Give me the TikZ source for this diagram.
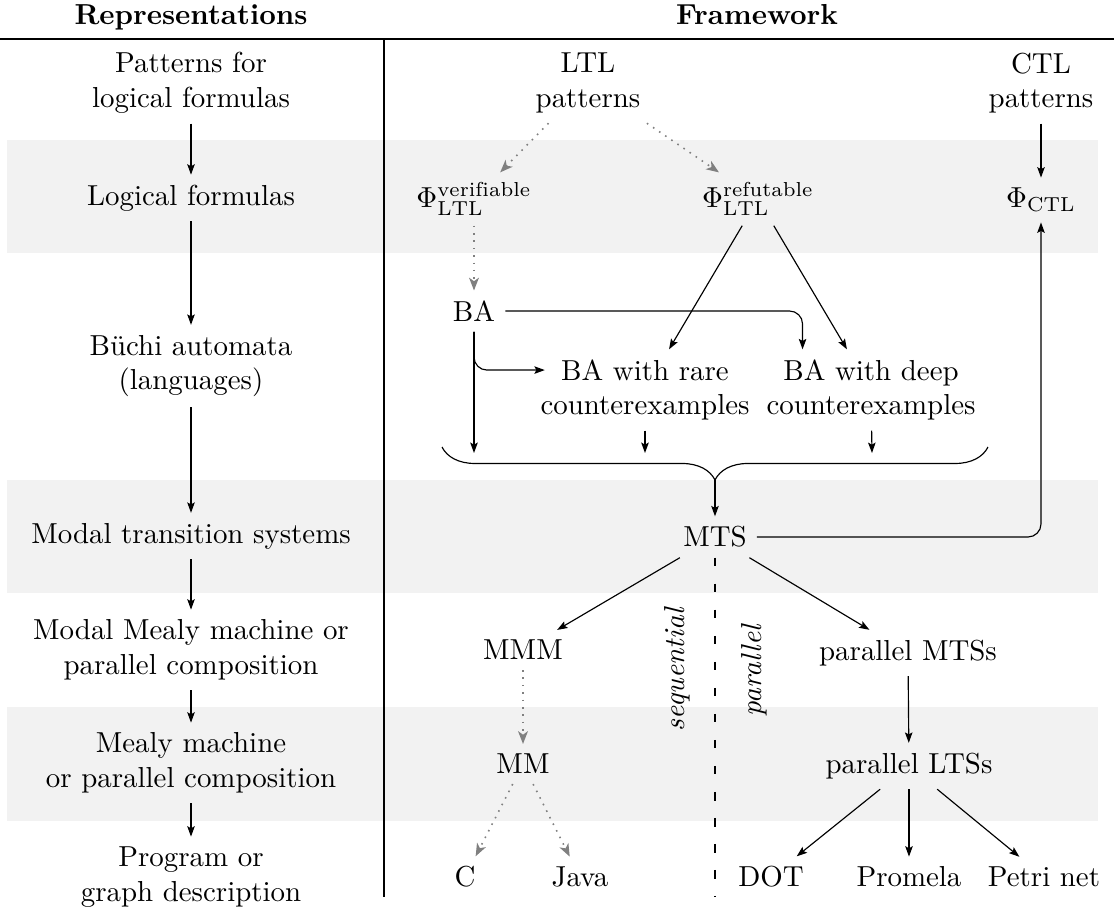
\documentclass[tikz,border=0pt]{standalone}
\usepackage{fontspec}
\usetikzlibrary{arrows.meta,decorations.pathreplacing,calc}
\begin{document}
\begin{tikzpicture}[x=0.346pt,y=-0.346pt,
  lbl/.style={inner sep=3.33pt, align=center},
  arr/.style={draw=black, line width=0.4pt, -{Stealth[length=3.6pt,width=2.6pt,inset=0.7pt]}},
  darr/.style={draw=black!50, dotted, line width=0.55pt, -{Stealth[length=4.4pt,width=3.4pt,inset=1.2pt]}},
  band/.style={fill=black!5, draw=none},
  rule/.style={draw=black, line width=0.45pt},
  seam/.style={draw=black, line width=0.4pt, loosely dashed}]
\useasboundingbox (0,0) rectangle (1114,914);
% shaded bands
\fill[band] (7,140) rectangle (1098,253);
\fill[band] (7,480) rectangle (1098,593);
\fill[band] (7,707) rectangle (1098,821);
% header
\node[anchor=base] (hrep) at (191,24) {\textbf{Representations}};
\node[anchor=base] (hfw) at (757,24) {\textbf{Framework}};
\draw[rule] (0,39) -- (1114,39);
\draw[rule] (384,39) -- (384,897);
% left column
\node[lbl] (l1) at (191,83) {Patterns for\\logical formulas};
\node[lbl] (l2) at (191,198) {Logical formulas};
\node[lbl] (l3) at (191,366) {B\"uchi automata\\(languages)};
\node[lbl] (l4) at (191,536) {Modal transition systems};
\node[lbl] (l5) at (191,650) {Modal Mealy machine or\\parallel composition};
\node[lbl] (l6) at (191,763) {Mealy machine\\or parallel composition};
\node[lbl] (l7) at (191,877) {Program or\\graph description};
\draw[arr] (l1) -- (l2);
\draw[arr] (l2) -- (l3);
\draw[arr] (l3) -- (l4);
\draw[arr] (l4) -- (l5);
\draw[arr] (l5) -- (l6);
\draw[arr] (l6) -- (l7);
% framework
\node[lbl] (ltlp) at (588,83) {LTL\\patterns};
\node[lbl] (ctlp) at (1041,83) {CTL\\patterns};
\node[lbl] (ver) at (474,199) {$\Phi^{\mathrm{verifiable}}_{\mathrm{LTL}}$};
\node[lbl] (ref) at (758,199) {$\Phi^{\mathrm{refutable}}_{\mathrm{LTL}}$};
\node[lbl] (ctl) at (1041,200) {$\Phi_{\mathrm{CTL}}$};
\node[lbl] (ba) at (474,311) {BA};
\node[lbl] (rare) at (645,390) {BA with rare\\counterexamples};
\node[lbl] (deep) at (871,390) {BA with deep\\counterexamples};
\node[lbl] (mts) at (715,537) {MTS};
\node[lbl] (mmm) at (523,650) {MMM};
\node[lbl] (pmts) at (908,653) {parallel MTSs};
\node[lbl] (mm) at (523,764) {MM};
\node[lbl] (plts) at (909,766) {parallel LTSs};
\node[lbl] (c) at (465,877) {C};
\node[lbl] (java) at (580,877) {Java};
\node[lbl] (dot) at (771,877) {DOT};
\node[lbl] (promela) at (909,877) {Promela};
\node[lbl] (petri) at (1044,877) {Petri net};
\node[lbl, rotate=90] (seq) at (677,669) {\textit{sequential}};
\node[lbl, rotate=90] (par) at (754,670) {\textit{parallel}};
% coordinates
\coordinate (baend) at (474,453);
\coordinate (rareend) at (645,453);
\coordinate (deepend) at (872,453);
\coordinate (bl) at (442,447);
\coordinate (br) at (988,447);
\coordinate (bt) at (715,480);
\coordinate (seamend) at (715,897);
% connectors
\draw[darr] (ltlp) -- (ver);
\draw[darr] (ltlp) -- (ref);
\draw[arr] (ctlp) -- (ctl);
\draw[darr] (ver) -- (ba);
\draw[arr] (ref) -- (rare);
\draw[arr] (ref) -- (deep);
\draw[arr, rounded corners=4.5pt] (ba) -| ([xshift=16pt]deep.north west);
\draw[arr, rounded corners=4.5pt] (ba) |- ([xshift=5pt,yshift=6.9pt]rare.west);
\draw[arr] (ba) -- (baend);
\draw[arr] (rare) -- (rareend);
\draw[arr] (deep) -- (deepend);
\draw[line width=0.4pt, decorate, decoration={brace, mirror, amplitude=11.4pt}] (bl) -- (br);
\draw[arr] (bt) -- (mts);
\draw[arr, rounded corners=4.5pt] (mts) -| (ctl);
\draw[arr] (mts) -- (mmm);
\draw[arr] (mts) -- (pmts);
\draw[seam] (mts) -- (seamend);
\draw[darr] (mmm) -- (mm);
\draw[darr] (mm) -- (c);
\draw[darr] (mm) -- (java);
\draw[arr] (pmts) -- (plts);
\draw[arr] (plts) -- (dot);
\draw[arr] (plts) -- (promela);
\draw[arr] (plts) -- (petri);
\end{tikzpicture}
\end{document}
